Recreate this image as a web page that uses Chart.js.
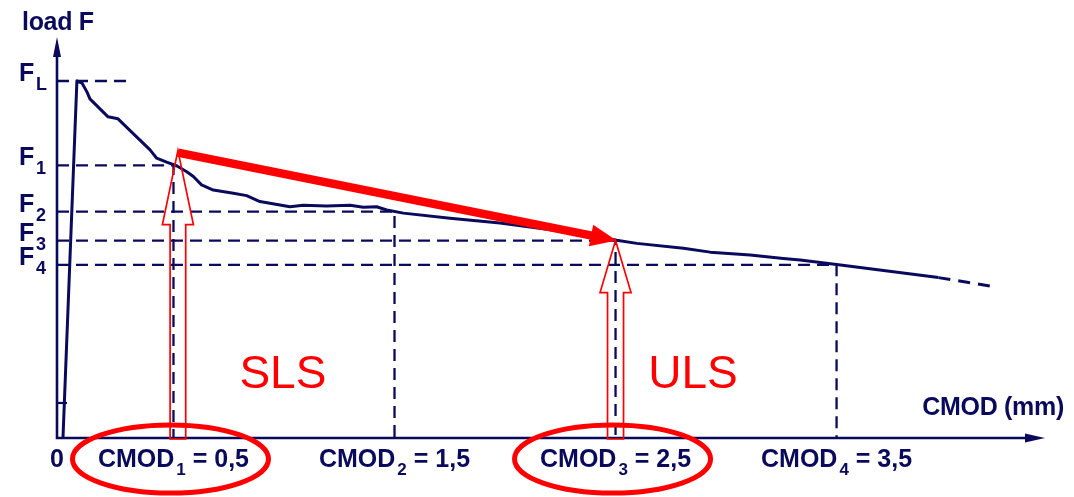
<!DOCTYPE html>
<html>
<head>
<meta charset="utf-8">
<script src="https://cdn.jsdelivr.net/npm/chart.js@4/dist/chart.umd.min.js"></script>
<style>
  html, body { margin: 0; padding: 0; background: #ffffff; }
  #wrap { width: 1074px; height: 497px; position: relative; }
</style>
</head>
<body>
<div id="wrap"><canvas id="c" width="1074" height="497"></canvas></div>
<script>
// Load–CMOD curve of a notched beam test (CMOD in mm, load in relative units)
const curveCMOD = [0, 0.063, 0.086, 0.109, 0.122, 0.204, 0.249, 0.394, 0.424, 0.469, 0.514, 0.560, 0.590, 0.627, 0.680, 0.771, 0.831, 0.891, 1.027, 1.087, 1.193, 1.299, 1.359, 1.419, 1.465, 1.540, 1.751, 1.977, 2.249, 2.430, 2.505, 2.596, 2.807, 2.928, 3.109, 3.259, 3.335, 3.500, 3.961];
const curveLoad = [0, 8.97, 8.92, 8.69, 8.52, 8.07, 8.02, 7.24, 7.03, 6.93, 6.84, 6.69, 6.57, 6.36, 6.23, 6.15, 6.09, 5.94, 5.81, 5.85, 5.83, 5.85, 5.80, 5.81, 5.73, 5.65, 5.52, 5.40, 5.20, 5.05, 4.97, 4.89, 4.77, 4.67, 4.60, 4.51, 4.47, 4.36, 4.03];
// extrapolated end of the curve (dashed)
const tailCMOD = [3.961, 4.195];
const tailLoad = [4.03, 3.82];

// characteristic loads: F_L (limit of proportionality) and F_1..F_4
const levelSubs = ['L', '1', '2', '3', '4'];
const levelLoad = [8.97, 6.85, 5.69, 4.96, 4.35];
const levelCMOD = [0.29, 0.5, 1.5, 2.5, 3.5]; // F_L guide stops short, the others drop to the axis

// CMOD_j tick labels
const cmodSubs = ['1', '2', '3', '4'];
const cmodValues = [0.5, 1.5, 2.5, 3.5];
const cmodText = ['0,5', '1,5', '2,5', '3,5'];

// serviceability / ultimate limit state markers
const slsPoint = [0.52, 7.22];
const ulsPoint = [2.5, 4.96];
const stateText = ['SLS', 'ULS'];
const stateTextX = [0.995, 2.85];
const stateTextY = 1.26;

const NAVY = '#0a0a5c';
const RED = '#ff0000';
const X_MIN = -0.027, X_MAX = 4.443, Y_MAX = 10;

const pts = (xs, ys) => xs.map((x, i) => ({ x: x, y: ys[i] }));

const guideSets = levelLoad.map((f, i) => {
  const data = i === 0
    ? [{ x: X_MIN, y: f }, { x: levelCMOD[i], y: f }]
    : [{ x: X_MIN, y: f }, { x: levelCMOD[i], y: f }, { x: levelCMOD[i], y: 0 }];
  return {
    label: 'F' + levelSubs[i], data: data, borderColor: NAVY, borderWidth: 2.3,
    borderDash: [12, 7], pointRadius: 0, tension: 0, fill: false
  };
});

const datasets = [
  ...guideSets,
  { label: 'curve', data: pts(curveCMOD, curveLoad), borderColor: NAVY, borderWidth: 3,
    pointRadius: 0, tension: 0, fill: false, borderJoinStyle: 'round' },
  { label: 'tail', data: pts(tailCMOD, tailLoad), borderColor: NAVY, borderWidth: 3,
    borderDash: [12, 8], pointRadius: 0, tension: 0, fill: false }
];

function subText(ctx, x, y, main, sub, rest, mainFont, subFont, subDrop, align) {
  ctx.font = mainFont;
  const wMain = ctx.measureText(main).width;
  const wRest = rest ? ctx.measureText(rest).width : 0;
  ctx.font = subFont;
  const wSub = ctx.measureText(sub).width;
  const total = wMain + wSub + 2 + wRest;
  let x0 = align === 'center' ? x - total / 2 : x;
  ctx.textAlign = 'left';
  ctx.textBaseline = 'alphabetic';
  ctx.font = mainFont;
  ctx.fillText(main, x0, y);
  ctx.font = subFont;
  ctx.fillText(sub, x0 + wMain + 2, y + subDrop);
  if (rest) { ctx.font = mainFont; ctx.fillText(rest, x0 + wMain + wSub + 2, y); }
}

function blockArrow(ctx, cx, tipY, baseY, headY, halfShaft, halfHead) {
  ctx.beginPath();
  ctx.moveTo(cx - halfShaft, baseY);
  ctx.lineTo(cx - halfShaft, headY);
  ctx.lineTo(cx - halfHead, headY);
  ctx.lineTo(cx, tipY);
  ctx.lineTo(cx + halfHead, headY);
  ctx.lineTo(cx + halfShaft, headY);
  ctx.lineTo(cx + halfShaft, baseY);
  ctx.closePath();
  ctx.stroke();
}

const decor = {
  id: 'decor',
  afterDatasetsDraw(chart) {
    const ctx = chart.ctx;
    const xs = chart.scales.x, ys = chart.scales.y;
    const a = chart.chartArea;
    const X = v => xs.getPixelForValue(v), Y = v => ys.getPixelForValue(v);
    ctx.save();

    // axes with arrow heads
    ctx.strokeStyle = NAVY; ctx.fillStyle = NAVY; ctx.lineWidth = 2.6;
    ctx.beginPath();
    ctx.moveTo(a.left, a.top + 10); ctx.lineTo(a.left, a.bottom); ctx.lineTo(a.right - 12, a.bottom);
    ctx.stroke();
    ctx.beginPath();
    ctx.moveTo(a.left, a.top - 3); ctx.lineTo(a.left - 4, a.top + 17); ctx.lineTo(a.left + 4, a.top + 17); ctx.closePath(); ctx.fill();
    ctx.beginPath();
    ctx.moveTo(a.right, a.bottom); ctx.lineTo(a.right - 20, a.bottom - 4.5); ctx.lineTo(a.right - 20, a.bottom + 4.5); ctx.closePath(); ctx.fill();
    // small tick on the load axis
    ctx.lineWidth = 2.2;
    ctx.beginPath(); ctx.moveTo(a.left, Y(0.88)); ctx.lineTo(a.left + 10, Y(0.88)); ctx.stroke();

    // axis titles
    ctx.fillStyle = NAVY;
    ctx.letterSpacing = '-0.3px';
    ctx.font = 'bold 25px "Liberation Sans", Arial, sans-serif';
    ctx.textBaseline = 'alphabetic';
    ctx.textAlign = 'left';
    ctx.fillText('load F', 22, 30);
    ctx.textAlign = 'right';
    ctx.fillText('CMOD (mm)', 1064, 415);

    // F labels on the load axis
    const fMain = 'bold 25px "Liberation Sans", Arial, sans-serif';
    const fSub = 'bold 18px "Liberation Sans", Arial, sans-serif';
    levelLoad.forEach((f, i) => {
      subText(ctx, 19, Y(f) + 0, 'F', levelSubs[i], '', fMain, fSub, 9, 'left');
    });

    // CMOD labels on the opening axis
    ctx.letterSpacing = '0px';
    const cMain = 'bold 25px "Liberation Sans", Arial, sans-serif';
    const cSub = 'bold 17px "Liberation Sans", Arial, sans-serif';
    ctx.textAlign = 'center';
    ctx.font = cMain;
    ctx.fillText('0', a.left, 467);
    cmodValues.forEach((v, i) => {
      subText(ctx, X(v), 467, 'CMOD', cmodSubs[i], ' = ' + cmodText[i], cMain, cSub, 8, 'center');
    });

    // limit state markers
    ctx.strokeStyle = RED; ctx.fillStyle = RED;
    ctx.lineWidth = 1.7; ctx.lineJoin = 'miter';
    blockArrow(ctx, X(slsPoint[0]), Y(slsPoint[1]), a.bottom + 1, Y(slsPoint[1]) + 74, 7.8, 15.5);
    blockArrow(ctx, X(ulsPoint[0]), Y(ulsPoint[1]), a.bottom + 1, Y(ulsPoint[1]) + 52, 8, 15.5);

    // thick arrow from SLS to ULS
    const x1 = X(slsPoint[0]), y1 = Y(slsPoint[1]) + 2, x2 = X(ulsPoint[0]) + 1, y2 = Y(ulsPoint[1]);
    const ang = Math.atan2(y2 - y1, x2 - x1);
    const headLen = 26, headHalf = 11;
    const bx = x2 - headLen * Math.cos(ang), by = y2 - headLen * Math.sin(ang);
    ctx.lineWidth = 8.5; ctx.lineCap = 'butt';
    ctx.beginPath(); ctx.moveTo(x1, y1); ctx.lineTo(bx + 2 * Math.cos(ang), by + 2 * Math.sin(ang)); ctx.stroke();
    ctx.beginPath();
    ctx.moveTo(x2, y2);
    ctx.lineTo(bx - headHalf * Math.sin(ang), by + headHalf * Math.cos(ang));
    ctx.lineTo(bx + headHalf * Math.sin(ang), by - headHalf * Math.cos(ang));
    ctx.closePath(); ctx.fill();

    // ellipses round the CMOD_1 and CMOD_3 labels
    ctx.lineWidth = 5;
    [cmodValues[0], cmodValues[2]].forEach(v => {
      ctx.beginPath();
      ctx.ellipse(X(v) - 3, 459, 98, 34, 0, 0, Math.PI * 2);
      ctx.stroke();
    });

    // SLS / ULS captions
    ctx.font = '46px "Liberation Sans", Arial, sans-serif';
    ctx.textAlign = 'center';
    ctx.textBaseline = 'alphabetic';
    stateText.forEach((t, i) => ctx.fillText(t, X(stateTextX[i]), Y(stateTextY)));

    ctx.restore();
  }
};

new Chart(document.getElementById('c'), {
  type: 'line',
  data: { datasets: datasets },
  options: {
    responsive: false,
    animation: false,
    parsing: false,
    layout: { padding: { left: 57, right: 29, top: 40, bottom: 59 } },
    plugins: { legend: { display: false }, tooltip: { enabled: false } },
    scales: {
      x: { type: 'linear', min: X_MIN, max: X_MAX, display: false },
      y: { type: 'linear', min: 0, max: Y_MAX, display: false }
    }
  },
  plugins: [decor]
});
</script>
</body>
</html>
